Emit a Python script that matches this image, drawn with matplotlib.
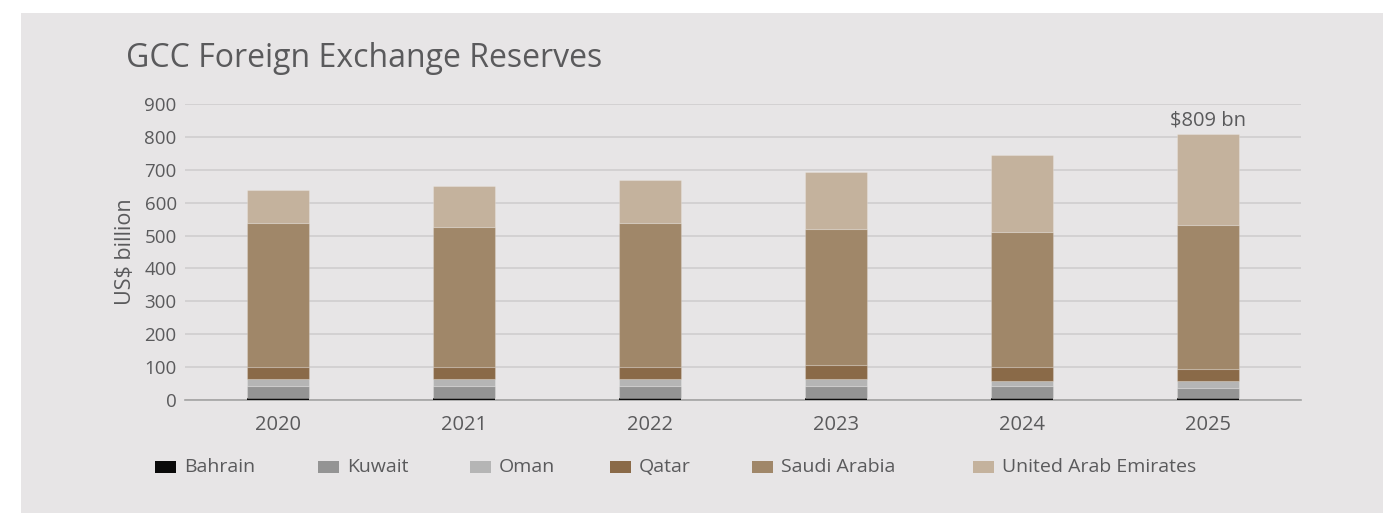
import matplotlib
matplotlib.use("Agg")
import matplotlib.pyplot as plt
from matplotlib.patches import Rectangle
import numpy as np

plt.rcParams['font.family'] = ['Open Sans', 'DejaVu Sans']

years = ["2020", "2021", "2022", "2023", "2024", "2025"]
bahrain = [5, 5, 5, 5, 5, 5]
kuwait = [38, 38, 38, 38, 38, 31]
oman = [21, 21, 21, 21, 15, 22]
qatar = [37, 37, 37, 43, 43, 37]
saudi = [437, 424, 437, 412, 411, 436]
uae = [101, 126, 131, 174, 232, 278]
country_names = ["Bahrain", "Kuwait", "Oman", "Qatar", "Saudi Arabia", "United Arab Emirates"]
y_ticks = [0, 100, 200, 300, 400, 500, 600, 700, 800, 900]
total_label = "$809 bn"

colors = ["#0a0a0a", "#949494", "#b5b5b5", "#8a6a48", "#a08769", "#c4b29d"]
panel_bg = "#e7e5e6"
text_col = "#5a5a5c"

W, H = 1397, 513
fig = plt.figure(figsize=(W / 100, H / 100), dpi=100, facecolor="white")

# grey card behind the chart
fig.patches.append(Rectangle((21 / W, 0), (1383 - 21) / W, (H - 13) / H,
                             transform=fig.transFigure, facecolor=panel_bg,
                             edgecolor="none", zorder=-5))

ax = fig.add_axes([185 / W, (H - 400) / H, (1301 - 185) / W, (400 - 104) / H])
ax.set_facecolor("none")
ax.set_zorder(2)

series = [bahrain, kuwait, oman, qatar, saudi, uae]
x = np.arange(len(years))
bottom = np.zeros(len(years))
for i, (vals, col) in enumerate(zip(series, colors)):
    ax.bar(x, vals, width=0.33, bottom=bottom, color=col,
           edgecolor=(1, 1, 1, 0.2), linewidth=0.8 if i > 0 else 0, zorder=3)
    bottom += np.array(vals)

ax.text(x[-1], bottom[-1] + 10, total_label.replace("$", r"\$"),
        ha="center", va="bottom", fontsize=14.5, color=text_col)

ax.set_xlim(-0.5, len(years) - 0.5)
ax.set_ylim(0, 900)
ax.set_yticks(y_ticks)
ax.set_yticklabels([str(v) for v in y_ticks])
ax.set_xticks(x)
ax.set_xticklabels(years)
ax.tick_params(axis="y", length=0, pad=6, labelsize=13.5, labelcolor=text_col)
ax.tick_params(axis="x", length=0, pad=11, labelsize=14.5, labelcolor=text_col)
ax.grid(axis="y", color="#cfcdce", linewidth=1.2, zorder=0)
ax.set_axisbelow(True)
for s in ["top", "right", "left"]:
    ax.spines[s].set_visible(False)
ax.spines["bottom"].set_color("#a3a3a3")
ax.spines["bottom"].set_linewidth(1.2)
ax.spines["bottom"].set_zorder(2)

ax.set_ylabel("US\\$ billion", fontsize=15.5, color=text_col, labelpad=6)

fig.text(126 / W, 1 - 59 / H, "GCC Foreign Exchange Reserves", fontsize=23,
         color=text_col, ha="left", va="center")

# legend row: swatch + label for each country
legend_x = [155, 318, 470, 610, 752, 973]
legend_y = 467
for lx, name, col in zip(legend_x, country_names, colors):
    fig.patches.append(Rectangle((lx / W, 1 - (legend_y + 6) / H), 21 / W, 12 / H,
                                 transform=fig.transFigure, facecolor=col,
                                 edgecolor="none", zorder=3))
    fig.text((lx + 29) / W, 1 - legend_y / H, name, fontsize=14,
             color=text_col, ha="left", va="center")

fig.savefig("out.png", dpi=100, facecolor="white")
